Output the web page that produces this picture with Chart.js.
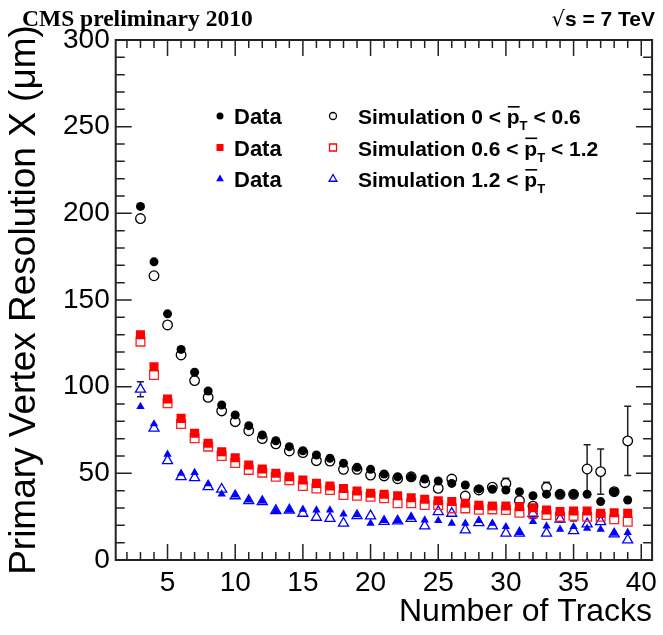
<!DOCTYPE html>
<html lang="en">
<head>
<meta charset="UTF-8">
<script src="https://cdn.jsdelivr.net/npm/chart.js"></script>
<style>
  body { margin: 0; background: #fff; }
</style>
</head>
<body>
<canvas id="myChart" width="663" height="635"></canvas>
<script>
// number of tracks (bin centres)
const tracks = [3,4,5,6,7,8,9,10,11,12,13,14,15,16,17,18,19,20,21,22,23,24,25,26,27,28,29,30,31,32,33,34,35,36,37,38,39]

// data, three pT bins
const dataLow = [204,172,142,121.5,108.3,97.5,89.4,83.7,77.5,72.1,68.8,65.4,63,60.6,58.7,55.8,53.5,52.3,49.6,48,47.7,46.7,45.6,44.2,43.3,41,40.8,40.4,39.4,37.1,38,37.9,37.9,37.9,33.7,39.4,34.6]
const dataMid = [130,111.5,92.9,81.7,73.1,67.3,62.5,59,54.8,52.5,50,48,46.2,44.2,42.7,41.3,39.8,38.5,37.9,37.1,35.9,35,34.2,33.7,32.7,31.5,31.2,31.2,30.8,30.2,28.8,27.9,28.3,28.3,26.9,27.3,26.9]
const dataHigh = [88.5,78.5,61,50,50.4,44,38,37.5,34.6,34,28.5,29,29.2,28.8,28.8,26.5,26,21.2,22.7,22.7,24.6,23,22.7,21.2,21.2,22.7,21.2,19.2,15.8,22.1,19.6,17.7,19.2,18.3,17.7,15.4,15.8]

// simulation, three pT bins
const simLow = [197,164,135.6,118.3,103.5,93.8,86,79.8,74.6,70,67,62.9,62,57.3,57.1,52.3,52.3,49,48.5,46.9,48,44.6,41.3,46.7,36.9,40.4,42,44.2,34.2,31.1,41.9,37.9,37.9,52.5,51,39.4,68.7]
const simMid = [126,106.7,90.4,78.5,70.2,65.4,60,56,52,50.4,48,46,42.7,41.3,40.4,37.5,37.1,36.5,35.6,32.7,32.7,31.7,31.7,29.8,29.8,29,29.2,28.8,27.3,26.9,26,25,25.5,25,25,23.5,22.1]
const simHigh = [98.5,76,57.3,48,47.5,42.3,40.8,37,34.2,33.7,28.5,28.8,26.9,24.6,24,21.2,25.5,25.4,22.2,22.5,24,19.6,27.9,26.9,17.3,21.5,19.6,15.4,15.5,26.9,15.4,23.5,16.9,20.8,22.1,15,11.5]

// simulation errors (only the visible ones)
const simLowErr = [0,0,0,0,0,0,0,0,0,0,0,0,0,0,0,0,0,0,0,0,0,0,0,0,0,0,0,3,0,0,3,0,0,14,13,0,20]
const simMidErr = [0,0,0,0,0,0,0,0,0,0,0,0,0,0,0,0,0,0,0,0,0,0,0,0,0,0,0,0,0,0,0,3,3,0,0,0,0]
const simHighErr = [4.3,0,0,0,0,0,0,0,0,0,0,0,0,0,0,0,0,0,0,0,0,0,0,0,0,0,0,0,0,3,0,0,0,0,0,0,0]

const xTicks = [5,10,15,20,25,30,35,40]
const yTicks = [0,50,100,150,200,250,300]

const simLabels = ['0 < ', '0.6 < ', '1.2 < ']
const simTails = [' < 0.6', ' < 1.2', '']

function pts(ys) {
  return tracks.map((t, i) => ({x: t, y: ys[i]}))
}

const FONT = 'Liberation Sans, Arial, sans-serif'

function marker(ctx, style, x, y, r, color, filled) {
  ctx.save()
  ctx.beginPath()
  if (style == 'circle') {
    ctx.arc(x, y, r, 0, Math.PI * 2)
  } else if (style == 'rect') {
    ctx.rect(x - r, y - r, 2 * r, 2 * r)
  } else {
    ctx.moveTo(x, y - r)
    ctx.lineTo(x + r * 0.866, y + r * 0.5)
    ctx.lineTo(x - r * 0.866, y + r * 0.5)
    ctx.closePath()
  }
  if (filled) {
    ctx.fillStyle = color
    ctx.fill()
  } else {
    ctx.strokeStyle = color
    ctx.lineWidth = 1.3
    ctx.stroke()
  }
  ctx.restore()
}

const errPlugin = {
  id: 'errbars',
  beforeDatasetsDraw(chart) {
    const ctx = chart.ctx
    const xs = chart.scales.x, ys = chart.scales.y
    const sets = [[simLow, simLowErr, 4.8], [simMid, simMidErr, 4.5], [simHigh, simHighErr, 4]]
    ctx.save()
    ctx.strokeStyle = '#222'
    ctx.lineWidth = 1.5
    sets.forEach(s => {
      tracks.forEach((t, i) => {
        const e = s[1][i]
        if (!e) return
        const px = xs.getPixelForValue(t)
        const top = ys.getPixelForValue(s[0][i] + e)
        const bot = ys.getPixelForValue(s[0][i] - e)
        const c = ys.getPixelForValue(s[0][i])
        ctx.beginPath()
        ctx.moveTo(px, top); ctx.lineTo(px, c - s[2])
        ctx.moveTo(px, c + s[2]); ctx.lineTo(px, bot)
        ctx.moveTo(px - 3.5, top); ctx.lineTo(px + 3.5, top)
        ctx.moveTo(px - 3.5, bot); ctx.lineTo(px + 3.5, bot)
        ctx.stroke()
      })
    })
    ctx.restore()
  }
}

const framePlugin = {
  id: 'frame',
  afterDraw(chart) {
    const ctx = chart.ctx
    const a = chart.chartArea
    const xs = chart.scales.x, ys = chart.scales.y
    ctx.save()
    ctx.strokeStyle = '#222'
    ctx.lineWidth = 1.5
    ctx.beginPath()
    for (let v = 2; v <= 40; v++) {
      const px = xs.getPixelForValue(v)
      const len = v % 5 == 0 ? 16 : 8
      ctx.moveTo(px, a.bottom); ctx.lineTo(px, a.bottom - len)
      ctx.moveTo(px, a.top); ctx.lineTo(px, a.top + len)
    }
    for (let v = 10; v < 300; v += 10) {
      const py = ys.getPixelForValue(v)
      const len = v % 50 == 0 ? 16 : 9
      ctx.moveTo(a.left, py); ctx.lineTo(a.left + len, py)
      ctx.moveTo(a.right, py); ctx.lineTo(a.right - len, py)
    }
    ctx.stroke()
    ctx.lineWidth = 2
    ctx.strokeRect(a.left, a.top, a.right - a.left, a.bottom - a.top)

    // header texts
    ctx.fillStyle = '#000'
    ctx.textBaseline = 'alphabetic'
    ctx.font = 'bold 23.5px Liberation Serif, Times New Roman, serif'
    ctx.textAlign = 'left'
    ctx.fillText('CMS preliminary 2010', 22, 26)
    ctx.textAlign = 'right'
    ctx.font = 'bold 21px ' + FONT
    ctx.fillText('s = 7 TeV', 655, 26)
    const w = ctx.measureText('s = 7 TeV').width
    ctx.font = '21px DejaVu Sans, sans-serif'
    ctx.fillText('\u221A', 655 - w, 26)

    // legend
    const rows = [116, 147.5, 179]
    const cols = ['#000000', '#ff0000', '#0000ff']
    const styles = ['circle', 'rect', 'triangle']
    const sizes = [3.5, 3.5, 4.5]
    ctx.textAlign = 'left'
    rows.forEach((ry, i) => {
      marker(ctx, styles[i], 220, ry, sizes[i], cols[i], true)
      marker(ctx, styles[i], 333, ry, sizes[i], cols[i], false)
      ctx.fillStyle = '#000'
      ctx.font = 'bold 22px ' + FONT
      ctx.fillText('Data', 234, ry + 8)
      ctx.font = 'bold 21px ' + FONT
      let x = 358
      const head = 'Simulation ' + simLabels[i]
      ctx.fillText(head, x, ry + 8)
      x += ctx.measureText(head).width
      ctx.fillText('p', x, ry + 8)
      const pw = ctx.measureText('p').width
      ctx.fillRect(x + 1, ry - 10, pw - 1, 1.6)
      x += pw
      ctx.font = 'bold 13px ' + FONT
      ctx.fillText('T', x, ry + 14)
      x += ctx.measureText('T').width
      ctx.font = 'bold 21px ' + FONT
      ctx.fillText(simTails[i], x, ry + 8)
    })
    ctx.restore()
  }
}

function makeSet(label, ys, style, color, filled, r) {
  return {
    label: label,
    data: pts(ys),
    pointStyle: style,
    pointRadius: r,
    pointHoverRadius: r,
    backgroundColor: filled ? color : 'rgba(0,0,0,0)',
    borderColor: color,
    borderWidth: filled ? 0 : 1.3,
    showLine: false
  }
}

const ctx = document.getElementById('myChart')
new Chart(ctx, {
  type: 'scatter',
  data: {
    datasets: [
      makeSet('Data', dataLow, 'circle', '#000000', true, 4.5),
      makeSet('Data', dataMid, 'rect', '#ff0000', true, 6.4),
      makeSet('Data', dataHigh, 'triangle', '#0000ff', true, 4.8),
      makeSet('Simulation 0 < pT < 0.6', simLow, 'circle', '#000000', false, 4.8),
      makeSet('Simulation 0.6 < pT < 1.2', simMid, 'rect', '#ff2020', false, 6.2),
      makeSet('Simulation 1.2 < pT', simHigh, 'triangle', '#0000ff', false, 5.8)
    ]
  },
  options: {
    responsive: false,
    animation: false,
    devicePixelRatio: 1,
    layout: { padding: { top: 40, right: 8.7, left: 0, bottom: 0 } },
    plugins: { legend: { display: false }, tooltip: { enabled: false } },
    scales: {
      x: {
        type: 'linear',
        min: 1.17,
        max: 40.8,
        afterBuildTicks: s => { s.ticks = xTicks.map(v => ({ value: v })) },
        afterFit: s => { s.height = 75 },
        grid: { display: false, drawTicks: false },
        border: { display: false },
        ticks: { color: '#000', font: { size: 28, family: FONT }, padding: 6, maxRotation: 0, autoSkip: false },
        title: { display: true, text: 'Number of Tracks', align: 'end', color: '#000',
                 font: { size: 32, family: FONT }, padding: { top: 0, bottom: 4 } }
      },
      y: {
        min: 0,
        max: 300,
        afterBuildTicks: s => { s.ticks = yTicks.map(v => ({ value: v })) },
        afterFit: s => { s.width = 115.7 },
        grid: { display: false, drawTicks: false },
        border: { display: false },
        ticks: { color: '#000', font: { size: 28, family: FONT }, padding: 6 },
        title: { display: true, text: 'Primary Vertex Resolution X (\u03BCm)', align: 'center', color: '#000',
                 font: { size: 37, family: FONT }, padding: { top: 3, bottom: 0 } }
      }
    }
  },
  plugins: [errPlugin, framePlugin]
})
</script>
</body>
</html>
